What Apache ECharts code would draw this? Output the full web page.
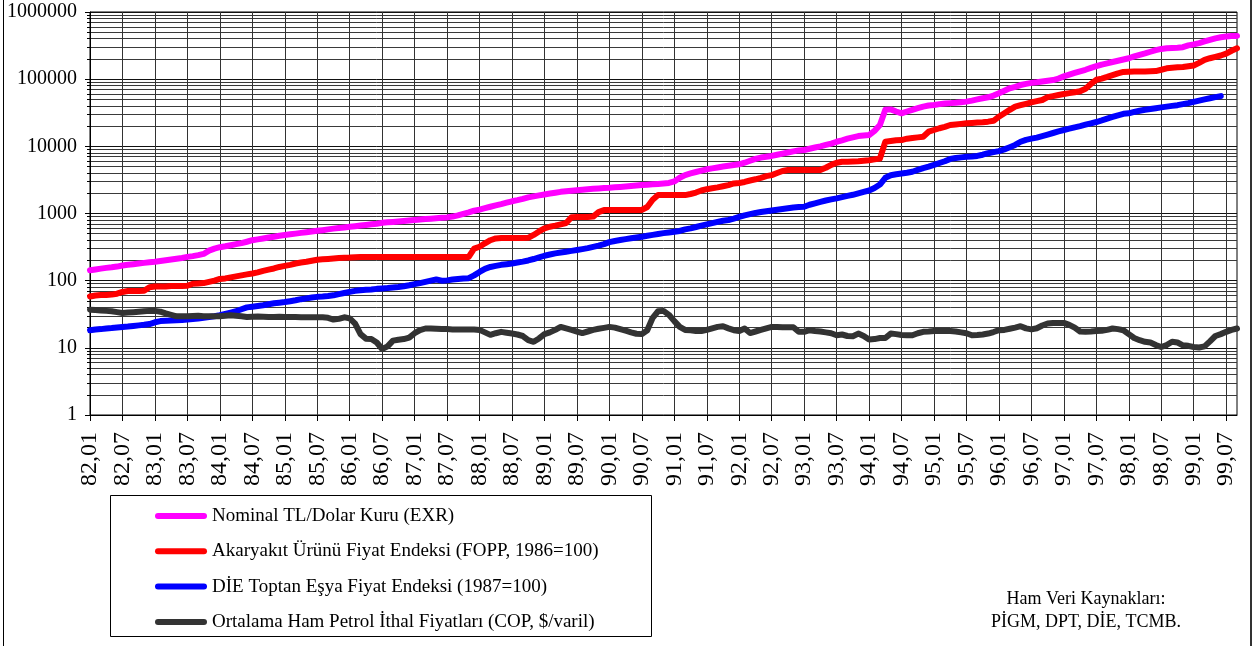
<!DOCTYPE html>
<html>
<head>
<meta charset="utf-8">
<script src="https://cdn.jsdelivr.net/npm/echarts@6/dist/echarts.min.js"></script>
<style>
  html, body { margin: 0; padding: 0; background: #fff; }
  #chart { width: 1254px; height: 646px; }
</style>
</head>
<body>
<div id="chart"></div>
<script>
// aylar: 82,01 ... 99,09
const months = [];
for (let y = 82; y <= 99; y++) {
  for (let m = 1; m <= 12; m++) {
    if (y === 99 && m > 9) break;
    months.push(y + ',' + (m < 10 ? '0' + m : m));
  }
}

// Nominal TL/Dolar Kuru (EXR)
const exr = [
  143, 147, 151, 155, 158, 162, 168, 172, 176, 180, 184, 188,
  191, 196, 201, 206, 212, 218, 226, 232, 240, 250, 280, 300,
  315, 325, 337, 350, 362, 380, 400, 412, 425, 440, 452, 466,
  478, 490, 502, 515, 527, 540, 552, 565, 580, 595, 608, 620,
  633, 648, 662, 675, 690, 705, 726, 738, 750, 762, 775, 788,
  800, 812, 825, 838, 850, 862, 875, 900, 940, 990, 1040, 1100,
  1140, 1200, 1260, 1320, 1380, 1450, 1520, 1580, 1650, 1740, 1800, 1860,
  1920, 1980, 2040, 2100, 2140, 2180, 2220, 2260, 2300, 2330, 2360, 2390,
  2410, 2450, 2490, 2530, 2570, 2610, 2650, 2680, 2720, 2760, 2800, 2850,
  3000, 3400, 3730, 3950, 4150, 4350, 4550, 4700, 4850, 5000, 5130, 5270,
  5400, 5700, 6100, 6500, 6800, 7000, 7200, 7500, 7800, 8100, 8400, 8700,
  8800, 9200, 9600, 10000, 10500, 11000, 11700, 12300, 13000, 13600, 14200, 14500,
  14700, 17000, 20800, 35000, 35500, 33000, 31000, 33000, 35000, 37000, 39000, 40500,
  41200, 42500, 43300, 44000, 44600, 45400, 46300, 48000, 50000, 52000, 53700, 57000,
  61700, 67000, 73000, 77000, 81800, 85000, 88000, 90000, 92500, 95000, 97000, 102000,
  110000, 117000, 124000, 131000, 138000, 147000, 156000, 165000, 172000, 180000, 188000, 196000,
  205000, 218000, 230000, 242000, 256000, 270000, 282000, 288000, 291000, 294000, 299000, 318000,
  330000, 345000, 365000, 385000, 405000, 420000, 432000, 438000, 441000
];

// Akaryakıt Ürünü Fiyat Endeksi (FOPP, 1986=100)
const fopp = [
  58, 60, 61, 61, 62, 64, 68, 70, 70, 70, 71, 80,
  82, 82, 82, 83, 83, 83, 84, 90, 91, 92, 96, 100,
  106, 108, 112, 116, 120, 124, 128, 133, 140, 146, 152, 160,
  166, 172, 180, 186, 191, 198, 205, 208, 211, 214, 217, 219,
  221, 224, 226, 226, 226, 226, 226, 226, 226, 226, 226, 226,
  226, 226, 226, 226, 226, 226, 226, 226, 226, 226, 226, 300,
  320, 360, 400, 425, 430, 430, 430, 430, 432, 435, 480, 540,
  600, 635, 660, 690, 720, 880, 890, 890, 890, 900, 1050, 1125,
  1125, 1125, 1125, 1125, 1125, 1125, 1130, 1250, 1600, 1880, 1880, 1880,
  1880, 1880, 1880, 1950, 2050, 2200, 2300, 2370, 2450, 2550, 2650, 2800,
  2850, 2950, 3100, 3230, 3400, 3600, 3730, 4000, 4300, 4440, 4440, 4440,
  4440, 4440, 4450, 4460, 4800, 5300, 5700, 5900, 5900, 5950, 6000, 6100,
  6200, 6400, 6600, 11700, 12000, 12300, 12400, 13000, 13300, 13600, 13900, 16500,
  17500, 18600, 19500, 20800, 21200, 21600, 22000, 22300, 22600, 22900, 23300, 24000,
  27600, 31000, 35000, 39000, 41000, 43000, 45000, 47000, 49000, 54000, 56000, 58000,
  60000, 62000, 64000, 66000, 72000, 85000, 98000, 102000, 108000, 115000, 122000, 128000,
  129000, 130000, 130000, 130000, 131000, 132000, 138000, 145000, 148000, 150000, 152000, 156000,
  160000, 175000, 194000, 205000, 215000, 225000, 240000, 265000, 288000
];

// DİE Toptan Eşya Fiyat Endeksi (1987=100)
const wpi = [
  18.3, 18.7, 19.0, 19.4, 19.7, 20.1, 20.5, 20.8, 21.2, 21.6, 22.0, 22.6,
  24.0, 25.0, 25.3, 25.5, 25.8, 26.0, 26.4, 26.8, 27.3, 28.0, 28.8, 29.6,
  30.6, 32.0, 33.5, 35.0, 37.5, 40.0, 41.0, 42.0, 43.0, 44.5, 46.0, 47.0,
  48.0, 49.5, 51.0, 53.0, 54.5, 56.0, 57.4, 58.0, 59.0, 60.5, 63.0, 65.5,
  68.0, 70.6, 72.0, 73.0, 74.0, 75.5, 76.5, 77.5, 79.0, 80.5, 82.5, 85.5,
  89, 92, 96, 100, 104, 100, 101, 104, 106, 108, 109, 120,
  135, 150, 160, 166, 172, 176, 180, 186, 192, 200, 210, 222,
  235, 245, 255, 262, 270, 278, 286, 295, 305, 318, 332, 350,
  375, 390, 402, 415, 427, 440, 452, 466, 480, 495, 510, 522,
  534, 550, 580, 600, 630, 660, 690, 720, 750, 780, 800, 840,
  893, 940, 980, 1020, 1050, 1080, 1110, 1140, 1170, 1200, 1230, 1250,
  1260, 1350, 1420, 1490, 1560, 1620, 1680, 1750, 1830, 1900, 2000, 2100,
  2200, 2400, 2700, 3400, 3720, 3850, 3950, 4050, 4180, 4450, 4750, 5000,
  5300, 5650, 6000, 6500, 6700, 6850, 7000, 7050, 7200, 7500, 7900, 8200,
  8500, 9000, 9700, 10500, 11700, 12500, 13000, 13500, 14200, 15000, 15800, 16700,
  17500, 18300, 19200, 20000, 21000, 22000, 23000, 24300, 25800, 27400, 29000, 30500,
  31000, 32500, 33800, 35000, 36000, 37000, 38000, 39000, 40000, 41000, 42500, 44000,
  46000, 48000, 50000, 52000, 54000, 56000, null, null, null
];

// Ortalama Ham Petrol İthal Fiyatları (COP, $/varil)
const cop = [
  37, 36.5, 36, 35.5, 35, 34, 33, 33.5, 34, 34.5, 35, 35.5,
  35.5, 34.5, 32.5, 31, 29.5, 29.5, 29.5, 29.8, 30, 29.5, 29.5, 29.5,
  29.5, 30, 30.5, 30, 29.5, 28.8, 29, 29.2, 29, 28.8, 28.8, 29,
  28.8, 28.8, 28.8, 28.6, 28.6, 28.5, 28.5, 28.5, 28, 26.4, 27, 28.5,
  27.5, 23, 16, 13.7, 13.5, 12, 9.6, 10.5, 12.8, 13.2, 13.5, 14.2,
  16.5, 18.3, 19.4, 19.4, 19.2, 19, 19, 18.8, 18.8, 18.8, 18.8, 18.8,
  18.5, 17, 15.6, 16.5, 17.3, 16.8, 16.3, 15.8, 15, 13, 12.3, 13.8,
  16, 17, 18.5, 20.5, 19.5, 18.5, 17.5, 16.6, 17.5, 18.5, 19.2, 19.8,
  20.5, 20, 19, 18, 17, 16.2, 16, 18.3, 28, 35, 35.5, 31,
  25, 20.5, 18.5, 18.2, 17.8, 17.8, 18.5, 19.5, 20.5, 21, 19.5, 18.3,
  17.8, 19.4, 16.6, 17.5, 18.5, 19.5, 20.5, 20.5, 20.3, 20.3, 20.3, 17.3,
  17.3, 18.3, 17.8, 17.5, 17, 16.5, 15.4, 15.8, 15, 14.9, 16.3, 15,
  13.3, 13.5, 14, 14, 16.3, 16, 15.5, 15.4, 15.4, 16.5, 17.3, 17.5,
  17.8, 17.8, 17.8, 17.8, 17.5, 17, 16.5, 15.4, 15.5, 15.8, 16.3, 17.2,
  18.3, 18.5, 19.2, 20, 21, 19.5, 18.8, 19.6, 21.5, 23, 23.5, 23.5,
  23.5, 22, 20, 17.5, 17.3, 17.5, 17.8, 18, 18.5, 19.4, 19, 18.3,
  16, 14, 13, 12.3, 12, 11, 10.3, 11, 12.3, 12, 10.9, 10.7,
  10.3, 10.1, 10.5, 12.5, 15, 16, 17.3, 18.5, 19.4
];

const serif = "'Liberation Serif', 'Times New Roman', serif";
const every6 = (i) => i % 6 === 0;

const seriesInfo = [
  { name: 'Nominal TL/Dolar Kuru (EXR)', data: exr, color: '#ff00ff' },
  { name: 'Akaryakıt Ürünü Fiyat Endeksi (FOPP, 1986=100)', data: fopp, color: '#ff0000' },
  { name: 'DİE Toptan Eşya Fiyat Endeksi (1987=100)', data: wpi, color: '#0000ff' },
  { name: 'Ortalama Ham Petrol İthal Fiyatları (COP, $/varil)', data: cop, color: '#333333' }
];

const myChart = echarts.init(document.getElementById('chart'), null, { renderer: 'canvas' });

const option = {
  animation: false,
  backgroundColor: '#fff',
  grid: {
    left: 90, right: 17, top: 12, bottom: 231,
    show: true, borderColor: '#000', borderWidth: 1, backgroundColor: 'transparent'
  },
  legend: {
    orient: 'vertical',
    left: 150,
    top: 501,
    itemGap: 15.3,
    itemWidth: 52,
    itemHeight: 6,
    icon: 'path://M3,0H49A3,3,0,0,1,49,6H3A3,3,0,0,1,3,0Z',
    selectedMode: false,
    textStyle: { fontFamily: serif, fontSize: 19, color: '#000', lineHeight: 20 },
    data: seriesInfo.map(s => s.name)
  },
  xAxis: {
    type: 'category',
    data: months,
    boundaryGap: false,
    axisLine: { lineStyle: { color: '#000', width: 1 } },
    axisTick: { interval: every6, length: 6, lineStyle: { color: '#000' } },
    axisLabel: {
      interval: every6, rotate: 90, margin: 17,
      fontFamily: serif, fontSize: 24, color: '#000'
    },
    splitLine: { show: true, interval: every6, lineStyle: { color: '#333', width: 1 } }
  },
  yAxis: {
    type: 'log',
    logBase: 10,
    min: 1,
    max: 1000000,
    axisLine: { show: true, lineStyle: { color: '#000', width: 1 } },
    axisTick: { show: true, length: 5, lineStyle: { color: '#000' } },
    minorTick: { show: true, splitNumber: 9, length: 3, lineStyle: { color: '#000' } },
    axisLabel: {
      margin: 13, fontFamily: serif, fontSize: 20, color: '#000',
      showMinLabel: true, showMaxLabel: true,
      formatter: (v) => String(Math.round(v))
    },
    splitLine: { show: true, lineStyle: { color: '#111', width: 1 } },
    minorSplitLine: { show: true, lineStyle: { color: '#3a3a3a', width: 1 } }
  },
  series: seriesInfo.map(s => ({
    name: s.name,
    type: 'line',
    data: s.data,
    symbol: 'none',
    itemStyle: { color: s.color },
    lineStyle: { color: s.color, width: 6, cap: 'round', join: 'round' }
  })),
  graphic: [
    { type: 'rect', shape: { x: 110.5, y: 495.5, width: 541, height: 141 },
      style: { fill: 'none', stroke: '#000', lineWidth: 1 } },
    { type: 'line', shape: { x1: 3.5, y1: 0, x2: 3.5, y2: 646 },
      style: { stroke: '#000', lineWidth: 1 } },
    { type: 'line', shape: { x1: 1251, y1: 0, x2: 1251, y2: 646 },
      style: { stroke: '#333', lineWidth: 2 } },
    { type: 'text', x: 1086, y: 599,
      style: { text: 'Ham Veri Kaynakları:', font: '18px ' + serif, fill: '#000',
        textAlign: 'center', textVerticalAlign: 'middle', align: 'center', verticalAlign: 'middle' } },
    { type: 'text', x: 1086, y: 622,
      style: { text: 'PİGM, DPT, DİE, TCMB.', font: '18px ' + serif, fill: '#000',
        textAlign: 'center', textVerticalAlign: 'middle', align: 'center', verticalAlign: 'middle' } }
  ]
};

myChart.setOption(option);
</script>
</body>
</html>
